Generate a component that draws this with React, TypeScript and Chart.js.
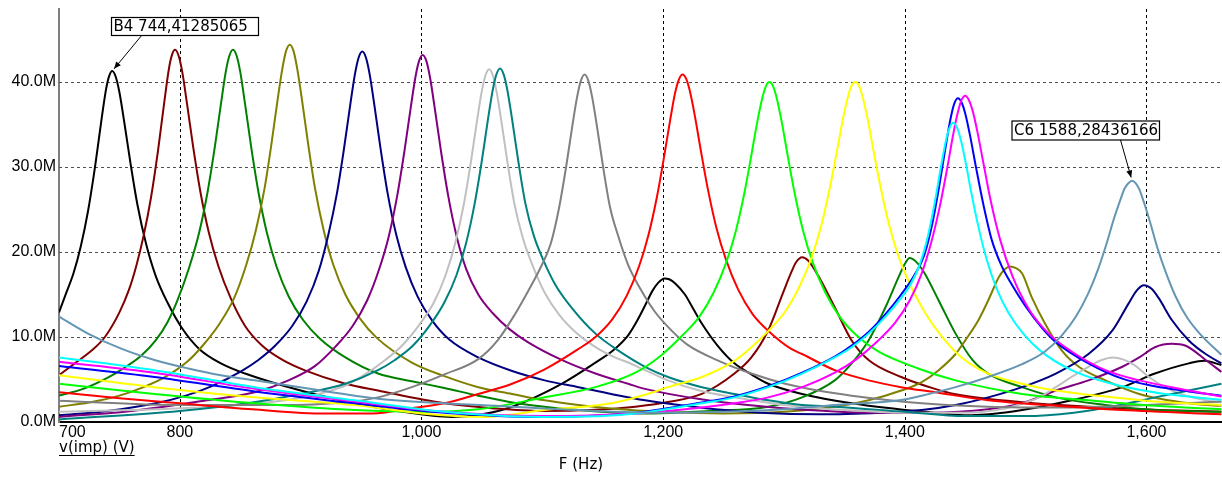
import React, { useEffect, useRef } from 'react';
import { Chart, registerables } from 'chart.js';

Chart.register(...registerables);

// ---------- axis / tick data ----------
const X_MIN = 700;
const X_MAX = 1662.5;
const Y_MAX = 48.6; // in millions
const xTickValues = [700, 800, 1000, 1200, 1400, 1600];
const xTickLabels = ['700', '800', '1,000', '1,200', '1,400', '1,600'];
const yTickValues = [0, 10, 20, 30, 40];
const yTickLabels = ['0.0M', '10.0M', '20.0M', '30.0M', '40.0M'];
const xAxisTitle = 'F (Hz)';
const traceLabel = 'v(imp) (V)';

// ---------- markers ----------
const markerLabels = ['B4 744,41285065', 'C6 1588,28436166'];
const markerHz = [744, 1588];
const markerM = [41.285065, 28.436166];

// ---------- series (frequency in Hz, value in M) ----------
const blackHz = [700, 706, 712, 718, 724, 730, 735, 739, 741.5, 744, 747, 750, 754, 759, 765, 772, 780, 790, 802, 816, 834, 854, 900, 945, 980, 1025, 1050, 1075, 1116, 1143, 1160, 1171, 1178, 1185, 1191, 1196, 1201, 1205, 1210, 1218, 1225, 1232, 1245, 1259, 1273, 1287, 1315, 1356, 1416, 1455, 1497, 1538, 1580, 1607, 1635, 1648, 1662];
const blackM = [12.9, 15.2, 17.5, 20.65, 24.8, 30.2, 35.4, 39.2, 40.7, 41.3, 40.6, 38.8, 35.3, 30.6, 25.5, 21.0, 17.2, 14.0, 11.0, 8.6, 6.9, 5.7, 3.7, 2.2, 1.3, 0.6, 0.9, 1.8, 4.5, 6.9, 8.6, 10.2, 11.8, 13.7, 15.4, 16.4, 16.9, 16.8, 16.3, 15.0, 13.3, 11.6, 9.0, 6.9, 5.6, 4.5, 3.3, 2.2, 1.2, 0.8, 1.4, 2.55, 4.1, 5.7, 6.9, 7.2, 6.7];

const maroonHz = [700, 713, 727, 738, 750, 758, 764, 770, 776, 782, 787, 791, 793.5, 796, 799, 802, 806, 811, 817, 824, 832, 842, 854, 868, 885, 903, 937, 964, 1019, 1060, 1100, 1140, 1177, 1204, 1232, 1259, 1273, 1287, 1300, 1306, 1310, 1315, 1320, 1328, 1342, 1356, 1370, 1397, 1425, 1441, 1500, 1580, 1662];
const maroonM = [5.5, 6.9, 8.4, 10.0, 12.9, 15.6, 18.4, 21.9, 26.3, 32.0, 37.5, 41.6, 43.2, 43.8, 43.1, 41.2, 37.4, 32.4, 27.1, 22.3, 18.3, 14.6, 11.3, 9.0, 7.3, 6.1, 4.5, 3.7, 2.2, 1.6, 1.3, 1.4, 1.8, 2.35, 3.3, 5.7, 7.6, 10.8, 15.5, 17.6, 18.8, 19.4, 19.0, 17.3, 13.5, 9.6, 7.3, 5.3, 3.9, 3.3, 2.3, 1.6, 1.2];

const greenHz = [700, 720, 740, 752, 768, 780, 790, 798, 808, 816, 823, 829, 834, 838, 841, 844, 847, 850, 854, 859, 865, 872, 880, 890, 902, 916, 937, 964, 992, 1019, 1047, 1075, 1130, 1180, 1240, 1287, 1315, 1342, 1356, 1370, 1384, 1395, 1400, 1404, 1409, 1416, 1428, 1442, 1456, 1469, 1497, 1525, 1566, 1607, 1662];
const greenM = [3.1, 3.9, 5.2, 6.2, 7.8, 9.6, 11.8, 14.3, 18.3, 22.3, 27.1, 32.4, 37.4, 41.2, 43.1, 43.8, 43.1, 41.2, 37.4, 32.4, 27.1, 22.3, 18.3, 14.8, 12.0, 9.8, 7.6, 5.7, 4.8, 4.0, 3.1, 2.3, 1.4, 1.0, 1.3, 1.8, 2.9, 4.9, 6.9, 9.6, 13.5, 17.1, 18.6, 19.3, 18.9, 17.6, 14.3, 10.4, 7.3, 5.7, 4.1, 2.9, 2.0, 1.4, 1.2];

const oliveHz = [700, 725, 750, 770, 788, 807, 819, 833, 845, 855, 863, 870, 876, 881, 885, 888, 891, 894, 897, 901, 906, 912, 919, 927, 937, 949, 963, 992, 1019, 1047, 1075, 1102, 1130, 1157, 1200, 1250, 1300, 1342, 1370, 1397, 1414, 1428, 1442, 1450, 1461, 1469, 1478, 1483, 1487, 1492, 1497, 1505, 1516, 1530, 1544, 1566, 1594, 1635, 1662];
const oliveM = [1.8, 2.3, 3.1, 4.1, 5.3, 7.2, 9.0, 11.6, 14.6, 18.5, 22.6, 27.4, 32.9, 38.0, 41.7, 43.7, 44.4, 43.7, 41.7, 38.0, 32.9, 27.4, 22.6, 18.5, 15.0, 12.2, 9.9, 7.0, 5.4, 4.1, 3.3, 2.55, 2.0, 1.6, 1.2, 1.0, 1.2, 1.8, 2.55, 3.7, 4.7, 6.1, 8.0, 9.6, 12.0, 14.3, 17.1, 18.0, 18.3, 18.1, 17.5, 14.7, 11.6, 8.4, 6.5, 4.9, 3.3, 2.2, 1.9];

const navyHz = [700, 740, 780, 805, 826, 851, 865, 879, 893, 905, 915, 923, 930, 936, 941, 945, 948, 951, 954, 957, 961, 966, 972, 979, 987, 997, 1009, 1023, 1047, 1075, 1102, 1130, 1157, 1185, 1230, 1280, 1330, 1380, 1414, 1442, 1469, 1497, 1525, 1552, 1572, 1585, 1592, 1598, 1604, 1610, 1621, 1635, 1649, 1662];
const navyM = [0.8, 1.3, 2.2, 3.1, 4.2, 6.0, 7.3, 9.0, 11.3, 14.2, 17.8, 22.1, 26.9, 32.3, 37.3, 41.0, 42.9, 43.6, 42.9, 41.0, 37.3, 32.3, 26.9, 22.1, 18.2, 14.7, 11.9, 9.7, 7.6, 6.0, 4.9, 4.1, 3.3, 2.55, 1.7, 1.1, 0.9, 1.1, 1.4, 2.0, 2.9, 4.1, 5.7, 8.0, 10.8, 13.9, 15.5, 16.1, 15.7, 14.6, 12.0, 9.6, 8.0, 6.9];

const purpleHz = [700, 760, 820, 862, 890, 912, 929, 943, 955, 965, 973, 980, 986, 991, 995, 998, 1001, 1004, 1007, 1011, 1016, 1022, 1029, 1037, 1047, 1059, 1073, 1088, 1116, 1144, 1171, 1185, 1230, 1270, 1320, 1370, 1420, 1469, 1497, 1525, 1552, 1580, 1594, 1607, 1621, 1632, 1649, 1662];
const purpleM = [0.6, 1.3, 2.5, 3.5, 4.9, 6.6, 8.9, 11.3, 14.3, 18.0, 21.9, 26.7, 32.0, 36.9, 40.6, 42.5, 43.2, 42.5, 40.6, 36.9, 32.0, 26.7, 21.9, 18.0, 15.0, 12.8, 10.9, 9.4, 7.3, 5.7, 4.5, 3.9, 2.7, 2.0, 1.4, 1.1, 1.1, 1.5, 2.2, 3.7, 4.9, 6.5, 7.6, 8.8, 9.2, 9.0, 7.3, 5.9];

const silverHz = [700, 780, 850, 903, 920, 937, 950, 970, 984, 998, 1010, 1020, 1028, 1035, 1041, 1046, 1050, 1053, 1056, 1059, 1062, 1066, 1071, 1077, 1084, 1092, 1102, 1114, 1128, 1144, 1160, 1171, 1185, 1204, 1230, 1259, 1300, 1350, 1400, 1450, 1483, 1500, 1511, 1525, 1538, 1552, 1563, 1572, 1580, 1590, 1602, 1621, 1649, 1662];
const silverM = [1.2, 1.5, 2.0, 2.9, 3.5, 4.3, 5.3, 7.3, 9.0, 11.4, 14.0, 17.3, 21.1, 25.6, 30.7, 35.5, 39.0, 40.8, 41.5, 40.8, 39.0, 35.5, 30.7, 25.6, 21.6, 18.4, 15.2, 12.6, 10.5, 8.8, 7.6, 7.0, 6.1, 4.9, 3.7, 2.9, 2.0, 1.4, 1.1, 1.1, 1.6, 2.3, 2.9, 4.1, 5.3, 6.5, 7.3, 7.6, 7.4, 6.7, 5.3, 3.7, 2.55, 2.3];

const tealHz = [700, 800, 860, 900, 937, 964, 978, 993, 1007, 1019, 1029, 1037, 1044, 1050, 1055, 1059, 1062, 1065, 1068, 1071, 1075, 1080, 1086, 1093, 1101, 1111, 1124, 1144, 1163, 1185, 1204, 1232, 1259, 1287, 1315, 1342, 1400, 1450, 1500, 1540, 1575, 1607, 1635, 1662];
const tealM = [0.3, 1.3, 2.3, 3.3, 4.5, 6.1, 7.3, 9.0, 11.4, 14.1, 17.3, 21.1, 25.7, 30.8, 35.6, 39.1, 40.9, 41.6, 40.9, 39.1, 35.6, 30.8, 25.7, 21.9, 19.0, 16.1, 13.5, 10.4, 8.4, 6.5, 5.3, 4.1, 3.3, 2.55, 2.0, 1.8, 1.2, 0.7, 0.7, 1.1, 1.9, 2.9, 3.7, 4.5];

const grayHz = [700, 800, 880, 936, 964, 992, 1019, 1047, 1063, 1077, 1089, 1099, 1107, 1114, 1120, 1125, 1129, 1132, 1135, 1138, 1141, 1145, 1150, 1156, 1163, 1171, 1181, 1193, 1206, 1220, 1246, 1273, 1301, 1328, 1356, 1414, 1469, 1530, 1600, 1662];
const grayM = [2.5, 2.0, 2.0, 2.3, 2.9, 4.1, 5.6, 7.4, 9.6, 12.6, 15.6, 18.3, 21.0, 25.3, 30.3, 35.0, 38.4, 40.2, 40.9, 40.2, 38.4, 35.0, 30.3, 25.3, 21.8, 18.5, 15.7, 13.0, 10.9, 9.1, 7.2, 5.7, 4.5, 3.7, 3.1, 2.2, 1.8, 1.7, 2.0, 2.4];

const redHz = [700, 750, 800, 860, 920, 960, 990, 1019, 1047, 1075, 1102, 1130, 1144, 1158, 1170, 1180, 1188, 1195, 1201, 1206, 1210, 1213, 1216, 1219, 1222, 1226, 1231, 1237, 1244, 1252, 1262, 1274, 1288, 1306, 1315, 1342, 1370, 1397, 1425, 1469, 1525, 1580, 1662];
const redM = [3.5, 2.8, 2.2, 1.5, 1.0, 1.0, 1.6, 2.2, 3.3, 4.5, 6.2, 8.6, 10.0, 12.1, 14.9, 18.3, 22.1, 26.6, 31.4, 35.7, 38.8, 40.3, 40.9, 40.4, 39.0, 36.2, 32.1, 27.4, 22.9, 19.1, 15.6, 12.7, 10.6, 8.6, 8.0, 6.1, 4.9, 4.1, 3.5, 2.55, 1.9, 1.4, 0.9];

const limeHz = [700, 779, 862, 945, 1000, 1047, 1102, 1144, 1177, 1198, 1216, 1230, 1242, 1252, 1260, 1267, 1273, 1278, 1282, 1285, 1288, 1291, 1294, 1298, 1303, 1309, 1316, 1324, 1334, 1346, 1360, 1378, 1411, 1442, 1497, 1552, 1607, 1662];
const limeM = [4.5, 3.3, 2.2, 1.4, 1.2, 1.5, 2.9, 4.1, 5.8, 7.8, 10.2, 12.4, 15.3, 18.7, 22.4, 26.8, 31.4, 35.4, 38.1, 39.5, 40.0, 39.5, 38.1, 35.4, 31.4, 26.8, 22.4, 18.7, 15.3, 12.4, 10.2, 8.3, 6.3, 4.9, 3.3, 2.55, 1.9, 1.5];

const yellowHz = [700, 779, 862, 945, 1000, 1050, 1102, 1157, 1185, 1204, 1232, 1259, 1269, 1287, 1301, 1313, 1323, 1331, 1338, 1344, 1349, 1353, 1356, 1359, 1362, 1365, 1369, 1374, 1380, 1387, 1395, 1405, 1417, 1431, 1447, 1469, 1497, 1525, 1552, 1580, 1607, 1662];
const yellowM = [5.5, 4.1, 2.9, 2.0, 1.0, 0.6, 1.4, 2.2, 3.2, 4.1, 5.3, 7.2, 8.3, 10.7, 13.0, 16.0, 19.4, 23.2, 27.6, 32.0, 35.8, 38.3, 39.6, 40.0, 39.6, 38.3, 35.8, 32.0, 27.6, 23.2, 19.4, 16.0, 12.8, 10.0, 7.6, 5.7, 4.5, 3.7, 3.2, 2.8, 2.4, 2.0];

const blueHz = [700, 779, 862, 945, 1019, 1100, 1150, 1177, 1232, 1259, 1287, 1315, 1342, 1356, 1370, 1384, 1397, 1408, 1416, 1423, 1429, 1434, 1438, 1441, 1444, 1447, 1450, 1454, 1459, 1465, 1472, 1480, 1488, 1500, 1514, 1525, 1552, 1580, 1607, 1635, 1662];
const blueM = [6.6, 5.3, 3.6, 2.2, 1.1, 0.6, 0.8, 1.1, 2.3, 3.0, 4.2, 5.8, 7.7, 9.0, 10.6, 12.7, 15.0, 17.3, 19.6, 23.5, 28.2, 32.6, 35.8, 37.5, 38.1, 37.6, 36.3, 33.7, 29.9, 25.6, 21.4, 18.4, 16.3, 13.6, 11.0, 9.4, 6.9, 5.1, 4.2, 3.6, 3.1];

const magentaHz = [700, 779, 862, 945, 1019, 1100, 1177, 1232, 1259, 1287, 1315, 1342, 1360, 1378, 1392, 1404, 1414, 1422, 1429, 1435, 1440, 1444, 1447, 1450, 1453, 1456, 1460, 1465, 1471, 1479, 1489, 1503, 1519, 1538, 1566, 1594, 1621, 1662];
const magentaM = [7.1, 5.8, 3.9, 2.4, 1.2, 0.7, 1.0, 1.7, 2.2, 2.9, 4.1, 5.8, 7.4, 9.6, 11.7, 14.3, 17.5, 21.2, 25.4, 29.8, 33.8, 36.5, 37.9, 38.4, 37.9, 36.7, 34.2, 30.5, 26.1, 21.4, 17.2, 13.2, 10.4, 8.3, 6.1, 4.9, 4.1, 3.0];

const cyanHz = [700, 779, 862, 945, 1019, 1100, 1150, 1177, 1232, 1259, 1287, 1315, 1342, 1356, 1370, 1384, 1397, 1404, 1412, 1419, 1425, 1430, 1434, 1437, 1440, 1443, 1446, 1450, 1455, 1461, 1468, 1476, 1486, 1498, 1512, 1538, 1566, 1594, 1621, 1662];
const cyanM = [7.6, 6.1, 4.1, 2.55, 1.2, 0.6, 0.7, 1.0, 2.2, 2.9, 4.1, 5.7, 7.6, 8.8, 10.4, 12.4, 14.6, 16.0, 18.4, 21.8, 26.0, 30.1, 33.1, 34.6, 35.2, 34.7, 33.4, 30.8, 27.0, 22.9, 19.0, 15.7, 12.8, 10.4, 8.4, 6.1, 4.7, 3.8, 3.2, 2.6];

const steelHz = [700, 724, 752, 779, 807, 834, 862, 890, 917, 945, 964, 1019, 1075, 1130, 1200, 1250, 1300, 1342, 1397, 1414, 1442, 1469, 1497, 1516, 1530, 1542, 1552, 1560, 1567, 1573, 1578, 1582, 1585, 1588, 1591, 1594, 1598, 1603, 1609, 1616, 1624, 1634, 1646, 1662];
const steelM = [12.4, 10.4, 8.6, 7.3, 6.3, 5.5, 4.9, 4.3, 3.7, 3.1, 2.75, 2.2, 1.8, 1.4, 1.1, 1.2, 1.5, 2.0, 2.6, 3.1, 4.1, 5.3, 6.8, 8.3, 10.2, 12.5, 15.2, 18.0, 21.0, 23.9, 26.0, 27.5, 28.1, 28.4, 28.1, 27.4, 25.8, 23.5, 20.5, 17.6, 14.8, 12.2, 10.1, 7.9];

const seriesHz = [blackHz, maroonHz, greenHz, oliveHz, navyHz, purpleHz, silverHz, tealHz, grayHz, redHz, limeHz, yellowHz, blueHz, magentaHz, cyanHz, steelHz];
const seriesM = [blackM, maroonM, greenM, oliveM, navyM, purpleM, silverM, tealM, grayM, redM, limeM, yellowM, blueM, magentaM, cyanM, steelM];
const seriesColors = ['#000000', '#800000', '#008000', '#808000', '#000080', '#800080', '#C0C0C0', '#008080', '#808080', '#FF0000', '#00FF00', '#FFFF00', '#0000FF', '#FF00FF', '#00FFFF', '#6496B4'];

// ---------- layout constants ----------
const W = 1222;
const H = 477;
const PLOT_LEFT = 59;
const PLOT_TOP = 9;
const X_AXIS_H = 55;
const markerBoxes = [
  [111, 17, 147, 18],
  [1011.5, 120.5, 147.5, 19],
];
const markerArrowStart = [
  [142, 35],
  [1120.5, 140],
];

const gridPlugin = {
  id: 'dashGrid',
  beforeDatasetsDraw(chart: any) {
    const { ctx, chartArea: a, scales } = chart;
    const x = scales.x;
    const y = scales.y;
    ctx.save();
    ctx.lineWidth = 1;
    ctx.setLineDash([3, 3]);
    ctx.strokeStyle = '#000000';
    xTickValues.filter((v) => v > X_MIN).forEach((v) => {
      const px = Math.round(x.getPixelForValue(v)) + 0.5;
      ctx.beginPath();
      ctx.moveTo(px, a.top);
      ctx.lineTo(px, a.bottom);
      ctx.stroke();
    });
    ctx.strokeStyle = '#505050';
    yTickValues.filter((v) => v > 0).forEach((v) => {
      const py = Math.round(y.getPixelForValue(v)) + 0.5;
      ctx.beginPath();
      ctx.moveTo(a.left, py);
      ctx.lineTo(a.right, py);
      ctx.stroke();
    });
    ctx.restore();
  },
};

const annotationPlugin = {
  id: 'markersAndTitles',
  afterDraw(chart: any) {
    const { ctx, scales } = chart;
    const x = scales.x;
    const y = scales.y;
    ctx.save();
    markerLabels.forEach((label, i) => {
      const [bx, by, bw, bh] = markerBoxes[i];
      const [sx, sy] = markerArrowStart[i];
      const tx = x.getPixelForValue(markerHz[i]);
      const ty = y.getPixelForValue(markerM[i]);
      const dx = tx - sx;
      const dy = ty - sy;
      const len = Math.sqrt(dx * dx + dy * dy);
      const ux = dx / len;
      const uy = dy / len;
      const ex = tx - ux * 3;
      const ey = ty - uy * 3;
      ctx.setLineDash([]);
      ctx.strokeStyle = '#000';
      ctx.lineWidth = 1;
      ctx.beginPath();
      ctx.moveTo(sx, sy);
      ctx.lineTo(ex, ey);
      ctx.stroke();
      const hl = 7;
      const hw = 3;
      ctx.fillStyle = '#000';
      ctx.beginPath();
      ctx.moveTo(ex, ey);
      ctx.lineTo(ex - ux * hl - uy * hw, ey - uy * hl + ux * hw);
      ctx.lineTo(ex - ux * hl + uy * hw, ey - uy * hl - ux * hw);
      ctx.closePath();
      ctx.fill();
      ctx.fillStyle = '#fff';
      ctx.fillRect(bx, by, bw, bh);
      ctx.lineWidth = 1.2;
      ctx.strokeRect(bx + 0.5, by + 0.5, bw, bh);
      ctx.fillStyle = '#000';
      ctx.font = '15px "DejaVu Sans"';
      ctx.textAlign = 'left';
      ctx.textBaseline = 'middle';
      ctx.fillText(label, bx + 2.5, by + bh / 2 + 1);
    });
    ctx.fillStyle = '#000';
    ctx.font = '15px "DejaVu Sans"';
    ctx.textAlign = 'center';
    ctx.textBaseline = 'middle';
    ctx.fillText(xAxisTitle, 581, 465);
    ctx.textAlign = 'left';
    ctx.textBaseline = 'alphabetic';
    ctx.fillText(traceLabel, 59, 452);
    const tw = ctx.measureText(traceLabel).width;
    ctx.fillRect(59, 455, tw, 1);
    ctx.restore();
  },
};

export default function App() {
  const ref = useRef<HTMLCanvasElement>(null);
  useEffect(() => {
    document.body.style.margin = '0';
    document.body.style.overflow = 'hidden';
    const canvas = ref.current;
    if (!canvas) return;
    const n = seriesHz.length;
    const datasets = seriesHz.map((hz, i) => ({
      label: 's' + i,
      data: hz.map((f, k) => ({ x: f, y: seriesM[i][k] })),
      borderColor: seriesColors[i],
      backgroundColor: seriesColors[i],
      borderWidth: 2,
      pointRadius: 0,
      pointHoverRadius: 0,
      fill: false,
      cubicInterpolationMode: 'monotone',
      order: n - i,
    }));
    const chart = new Chart(canvas, {
      type: 'line',
      data: { datasets } as any,
      options: {
        animation: false,
        responsive: false,
        devicePixelRatio: 1,
        events: [],
        layout: { padding: { top: PLOT_TOP, left: 0, right: 0, bottom: 0 } },
        plugins: { legend: { display: false }, tooltip: { enabled: false } },
        scales: {
          x: {
            type: 'linear',
            min: X_MIN,
            max: X_MAX,
            afterBuildTicks: (scale: any) => {
              scale.ticks = [...xTickValues, X_MAX].map((v) => ({ value: v }));
            },
            afterFit: (scale: any) => {
              scale.height = X_AXIS_H;
              scale.paddingLeft = 0;
              scale.paddingRight = 0;
            },
            grid: { display: false, drawTicks: false },
            border: { display: true, color: '#000000', width: 2 },
            ticks: {
              autoSkip: false,
              maxRotation: 0,
              minRotation: 0,
              align: 'inner',
              padding: 1,
              color: '#000',
              font: { family: '"Liberation Sans"', size: 16 },
              callback: (v: any) => {
                const i = xTickValues.indexOf(Number(v));
                return i >= 0 ? xTickLabels[i] : '';
              },
            },
          },
          y: {
            type: 'linear',
            min: 0,
            max: Y_MAX,
            afterBuildTicks: (scale: any) => {
              scale.ticks = yTickValues.map((v) => ({ value: v }));
            },
            afterFit: (scale: any) => {
              scale.width = PLOT_LEFT;
              scale.paddingTop = 0;
              scale.paddingBottom = 0;
            },
            grid: { display: false, drawTicks: false },
            border: { display: true, color: '#808080', width: 2 },
            ticks: {
              padding: 3,
              color: '#000',
              font: { family: '"Liberation Sans"', size: 16 },
              callback: (v: any) => {
                const i = yTickValues.indexOf(Number(v));
                return i >= 0 ? yTickLabels[i] : '';
              },
            },
          },
        },
      } as any,
      plugins: [gridPlugin, annotationPlugin],
    });
    return () => chart.destroy();
  }, []);
  return (
    <div style={{ position: 'fixed', left: 0, top: 0, width: W, height: H, background: '#fff' }}>
      <canvas ref={ref} width={W} height={H} style={{ display: 'block' }} />
    </div>
  );
}
